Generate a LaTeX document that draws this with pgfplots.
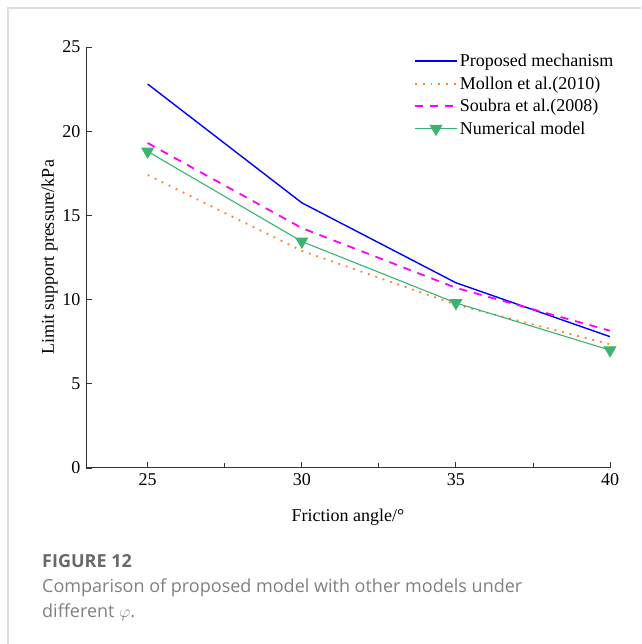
\documentclass[border=0pt]{standalone}
\usepackage{pgfplots}
\pgfplotsset{compat=1.18}
\usepackage{fontspec}
\setmainfont{Liberation Serif}
\newfontfamily\capfont{Open Sans}
\definecolor{cblue}{RGB}{0,0,255}
\definecolor{corange}{RGB}{255,127,39}
\definecolor{cmag}{RGB}{255,0,255}
\definecolor{cgreen}{RGB}{60,179,113}
\definecolor{capgray}{RGB}{105,105,105}
\definecolor{framegray}{RGB}{222,222,222}
\begin{document}
\begin{tikzpicture}
\path[use as bounding box] (0pt,0pt) rectangle (641pt,644pt);
\draw[framegray, line width=1.5pt] (641pt,636pt) -- (8pt,636pt) -- (8pt,0pt);
\begin{axis}[
  at={(86pt,176pt)}, anchor=south west,
  scale only axis, width=524pt, height=421pt,
  xmin=23, xmax=40, ymin=0, ymax=25,
  axis x line*=bottom, axis y line*=left,
  axis line style={-, line width=1pt, black!80},
  xtick={25,30,35,40}, xticklabels={25,30,35,40},
  minor xtick={27.5,32.5,37.5},
  ytick={0,5,10,15,20,25}, yticklabels={0,5,10,15,20,25},
  tick style={line width=0.8pt, black!80},
  major tick length=6pt, minor tick length=5pt,
  tick align=inside,
  tick label style={font=\rmfamily\fontsize{18}{20}\selectfont},
  xticklabel style={yshift=-2pt},
  yticklabel style={xshift=-2pt},
  xlabel={Friction angle/°},
  ylabel={Limit support pressure/kPa},
  label style={font=\rmfamily\fontsize{18}{20}\selectfont},
  xlabel style={yshift=-16pt},
  ylabel style={yshift=-2pt},
  legend style={draw=none, fill=none, at={(0.622,0.993)}, anchor=north west,
    font=\rmfamily\fontsize{18}{22}\selectfont, row sep=4.5pt, inner sep=2pt},
  legend cell align=left,
  legend image code/.code={\draw[mark repeat=2,mark phase=2,#1] plot coordinates {(0pt,0pt) (21pt,0pt) (42pt,0pt)};},
]
\addplot[cblue, line width=1.4pt] coordinates {(25,22.8) (30,15.75) (35,11.0) (40,7.8)};
\addlegendentry{Proposed mechanism}
\addplot[corange, line width=1.8pt, dash pattern=on 1.8pt off 6pt] coordinates {(25,17.4) (30,12.9) (35,9.7) (40,7.35)};
\addlegendentry{Mollon et al.(2010)}
\addplot[cmag, line width=1.8pt, dash pattern=on 8pt off 7pt] coordinates {(25,19.3) (30,14.25) (35,10.7) (40,8.15)};
\addlegendentry{Soubra et al.(2008)}
\addplot[cgreen, line width=1.1pt, mark=triangle*, mark size=6.5pt, mark options={rotate=180, fill=cgreen, draw=cgreen}] coordinates {(25,18.8) (30,13.45) (35,9.8) (40,7.0)};
\addlegendentry{Numerical model}
\end{axis}
\node[anchor=base west, inner sep=0pt, text=capgray, font=\capfont\fontsize{18}{20}\selectfont\bfseries] at (42pt,76pt) {FIGURE 12};
\node[anchor=base west, inner sep=0pt, text=capgray!85, font=\capfont\fontsize{18}{20}\selectfont] at (42pt,51pt) {Comparison of proposed model with other models under};
\node[anchor=base west, inner sep=0pt, text=capgray!85, font=\capfont\fontsize{18}{20}\selectfont] at (42pt,26pt) {different $\varphi$.};
\end{tikzpicture}
\end{document}
